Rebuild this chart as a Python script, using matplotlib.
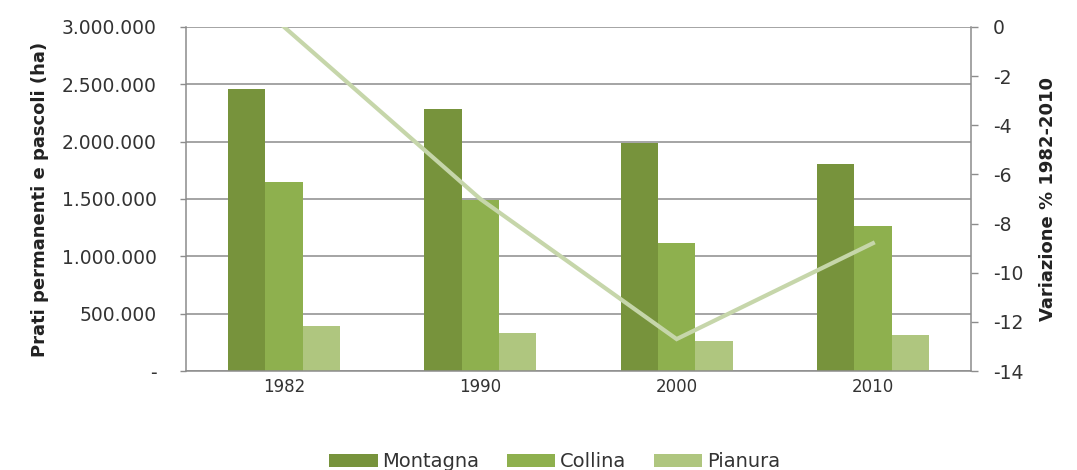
import numpy as np
import matplotlib.pyplot as plt
from matplotlib.ticker import FuncFormatter

anni = ['1982', '1990', '2000', '2010']
montagna = [2458000, 2289000, 1987000, 1809000]
collina = [1647000, 1492000, 1120000, 1265000]
pianura = [393000, 329000, 262000, 311000]
variazione = [0.0, -7.0, -12.7, -8.8]

plt.rcParams['font.family'] = ['DejaVu Sans']
plt.rcParams['axes.unicode_minus'] = False

fig = plt.figure(figsize=(10.77, 4.70), dpi=100)
ax = fig.add_axes([0.1727, 0.2106, 0.7289, 0.7320])

x = np.arange(len(anni))
w = 0.19
ax.bar(x - w, montagna, w, color='#77933C', label='Montagna', zorder=2)
ax.bar(x, collina, w, color='#8EB04E', label='Collina', zorder=2)
ax.bar(x + w, pianura, w, color='#AFC67F', label='Pianura', zorder=2)

ax.set_xlim(-0.5, 3.5)
ax.set_ylim(0, 3000000)
ax.set_yticks(np.arange(0, 3000001, 500000))


def fmt_it(v, pos):
    if v == 0:
        return '-'
    return f'{int(v):,}'.replace(',', '.')


ax.yaxis.set_major_formatter(FuncFormatter(fmt_it))
ax.grid(axis='y', color='#8c8c8c', linewidth=1.1, zorder=0)
ax.set_xticks(x)
ax.set_xticklabels(anni)
ax.tick_params(axis='x', length=0, labelsize=12, colors='#333333', pad=5)
ax.tick_params(axis='y', length=4, width=1, color='#8c8c8c', labelsize=13.5,
               colors='#333333', pad=17)
for s in ['top', 'right']:
    ax.spines[s].set_visible(False)
for s in ['left', 'bottom']:
    ax.spines[s].set_color('#8c8c8c')
    ax.spines[s].set_linewidth(1.1)
ax.set_ylabel('Prati permanenti e pascoli (ha)', fontsize=13,
              fontweight='bold', color='#222222', labelpad=9)

ax2 = ax.twinx()
ax2.plot(x, variazione, color='#C6D6AA', linewidth=3, zorder=3,
         solid_joinstyle='miter')
ax2.set_ylim(-14, 0)
ax2.set_yticks(np.arange(-14, 1, 2))
ax2.tick_params(axis='y', length=5, width=1, color='#8c8c8c', labelsize=13.5,
                colors='#333333', pad=11)
for s in ['top', 'left', 'bottom']:
    ax2.spines[s].set_visible(False)
ax2.spines['right'].set_color('#8c8c8c')
ax2.spines['right'].set_linewidth(1.1)
ax2.set_ylabel('Variazione % 1982-2010', fontsize=13, fontweight='bold',
               color='#222222', labelpad=11)

fig.legend(loc='lower center', bbox_to_anchor=(0.515, -0.04), ncol=3,
           frameon=False, fontsize=14, handlelength=2.5, handleheight=0.72,
           columnspacing=1.4, handletextpad=0.25,
           labelcolor='#333333')

fig.savefig('out.png', dpi=100, facecolor='white')
